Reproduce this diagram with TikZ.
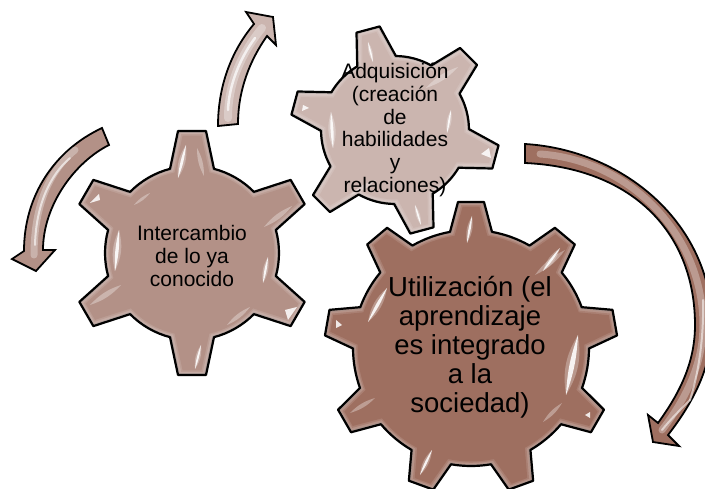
\documentclass[tikz,border=0pt]{standalone}
\usepackage{fontspec}
\setmainfont{Liberation Sans}
\definecolor{gA}{HTML}{B39187}
\definecolor{gB}{HTML}{CBB5AF}
\definecolor{gC}{HTML}{9E6F60}
\newcommand\mkgear[9]{% cx cy n rot rb rt hwtip hwbase inset
  \gdef\gearP{}%
  \foreach \k in {1,...,#3}{%
    \pgfmathsetmacro\ang{#4-(\k-1)*360/#3}%
    \pgfmathsetmacro\rB{#5-#9}\pgfmathsetmacro\rT{#6-#9}%
    \pgfmathsetmacro\hT{max(#7-#9,1)}\pgfmathsetmacro\hB{max(#8-#9,1)}%
    \pgfmathsetmacro\da{asin(\hB/\rB)}%
    \pgfmathsetmacro\ca{cos(\ang)}\pgfmathsetmacro\sa{sin(\ang)}%
    \pgfmathsetmacro\ax{#1+\rB*cos(\ang+\da)}\pgfmathsetmacro\ay{#2-\rB*sin(\ang+\da)}%
    \pgfmathsetmacro\bx{#1+\rT*\ca-\hT*\sa}\pgfmathsetmacro\by{#2-\rT*\sa-\hT*\ca}%
    \pgfmathsetmacro\cx{#1+\rT*\ca+\hT*\sa}\pgfmathsetmacro\cy{#2-\rT*\sa+\hT*\ca}%
    \pgfmathsetmacro\dx{#1+\rB*cos(\ang-\da)}\pgfmathsetmacro\dy{#2-\rB*sin(\ang-\da)}%
    \xdef\gearP{\gearP(\ax,\ay) -- (\bx,\by) -- (\cx,\cy) -- (\dx,\dy) -- }%
    \foreach \s in {1,...,7}{%
      \pgfmathsetmacro\aa{\ang-\da-\s*(360/#3-2*\da)/8}%
      \pgfmathsetmacro\px{#1+\rB*cos(\aa)}\pgfmathsetmacro\py{#2-\rB*sin(\aa)}%
      \xdef\gearP{\gearP(\px,\py) -- }%
    }%
  }%
}
% layered gear: cx cy n rot rb rt hwtip hwbase colour
\newcommand\gearbody[9]{%
  \mkgear{#1}{#2}{#3}{#4}{#5}{#6}{#7}{#8}{0}%
  \edef\tmp{\noexpand\path[gearedge,fill=#9!60!gray!80!white] \gearP cycle;}\tmp
  \mkgear{#1}{#2}{#3}{#4}{#5}{#6}{#7}{#8}{1.8}%
  \edef\tmp{\noexpand\path[fill=#9!75!white] \gearP cycle;}\tmp
  \mkgear{#1}{#2}{#3}{#4}{#5}{#6}{#7}{#8}{3.2}%
  \edef\tmp{\noexpand\path[fill=#9!88!white] \gearP cycle;}\tmp
  \mkgear{#1}{#2}{#3}{#4}{#5}{#6}{#7}{#8}{4.6}%
  \edef\tmp{\noexpand\path[fill=#9] \gearP cycle;}\tmp
}
% tapered highlight: halo + bright sliver
\newcommand\gl[4]{%
  \fill[white,opacity=.28] (#1,#2) to[bend left=20] (#3,#4) to[bend left=20] (#1,#2);
  \fill[white,opacity=.88] (#1,#2) to[bend left=8] (#3,#4) to[bend left=8] (#1,#2);
}
\newcommand\pl[4]{%
  \fill[white,opacity=.32] (#1,#2) to[bend left=14] (#3,#4) to[bend left=14] (#1,#2);
}
\tikzset{
  gearedge/.style={draw=black,line width=2.2pt,line join=round},
  arrowA/.style={draw=black,line width=1.8pt,line join=miter,fill=#1},
  band/.style={draw=white,line cap=round,opacity=.3,line width=#1},
  spark/.style={fill=white,opacity=.85},
  gearlabel/.style={align=center,text=black,inner sep=0pt},
}
\begin{document}
\begin{tikzpicture}[x=1pt,y=-1pt]
\useasboundingbox (0,0) rectangle (705,489);
\clip (0,0) rectangle (705,489);
% arrows
\path[arrowA={gA}] (102,128) .. controls (55,150) and (24,195) .. (24,251) -- (12,259) -- (36,271) -- (55,250) -- (43,250) .. controls (43,205) and (75,162) .. (109,145) -- cycle;
\draw[band=7pt] (75,150) .. controls (50,170) and (34,205) .. (34,255);
\draw[band=2pt,opacity=.6] (70,158) .. controls (50,175) and (36,205) .. (35,245);
\path[arrowA={gB}] (218,126) .. controls (218,85) and (232,50) .. (254,24) -- (246,12) -- (273,17) -- (276,45) -- (267,36) .. controls (250,60) and (238,90) .. (238,124) -- cycle;
\draw[band=8pt] (228,118) .. controls (228,85) and (240,55) .. (262,28);
\draw[band=2.5pt,opacity=.7] (228,110) .. controls (229,85) and (240,58) .. (255,38);
\path[arrowA={gC}] (525,144) .. controls (625,150) and (712,225) .. (712,325) .. controls (712,365) and (695,400) .. (668,435) -- (679,446) -- (653,442) -- (648,415) -- (658,423) .. controls (682,390) and (695,360) .. (695,325) .. controls (695,235) and (635,168) .. (525,163) -- cycle;
\draw[band=7pt] (540,154) .. controls (630,160) and (703,235) .. (703,325) .. controls (703,365) and (685,400) .. (662,430);
\draw[band=2pt,opacity=.55] (690,400) .. controls (680,410) and (670,420) .. (662,430);
\draw[band=2pt,opacity=.55] (703,300) .. controls (704,340) and (698,375) .. (690,400);
% gear 2
\gearbody{395}{130}{6}{-15}{74}{104}{12}{20}{gB}
\gl{331}{112}{333}{148}
\gl{451}{110}{447}{133}
\pl{426}{88}{458}{67}
\pl{350}{195}{376}{180}
\gl{368}{42}{373}{62}
\gl{415}{205}{421}{225}
\fill[spark] (303,105) -- (309,108) -- (302,111) -- cycle;
\fill[spark] (491,158) -- (481,154) -- (489,148) -- cycle;
% gear 1
\gearbody{192}{253}{6}{30}{87}{122}{14}{22}{gA}
\gl{186}{145}{178}{178}
\pl{197}{148}{204}{176}
\fill[spark] (90,203) -- (99,194) -- (100,200) -- cycle;
\pl{292}{206}{264}{227}
\gl{119}{230}{115}{271}
\gl{268}{257}{263}{283}
\fill[spark] (285,310) -- (297,307) -- (288,320) -- cycle;
\pl{90}{305}{121}{285}
\gl{201}{345}{195}{369}
\pl{227}{325}{250}{307}
\pl{134}{205}{150}{193}
% gear 3
\gearbody{471}{348}{9}{10}{118}{146}{13}{21}{gC}
\gl{472}{216}{467}{243}
\gl{560}{248}{543}{271}
\pl{565}{250}{535}{275}
\gl{387}{288}{368}{322}
\gl{578}{335}{566}{395}
\gl{432}{450}{420}{475}
\pl{375}{398}{350}{413}
\pl{562}{403}{543}{422}
\fill[spark] (336,320) -- (342,325) -- (336,328) -- cycle;
\fill[spark] (590,412) -- (590,418) -- (585,415) -- cycle;
% labels
\node[gearlabel,font=\fontsize{21}{23}\selectfont] (lblA) at (192,255.5) {Intercambio\\de lo ya\\conocido};
\node[gearlabel,font=\fontsize{21}{22.7}\selectfont] (lblB) at (395,130) {Adquisición\\(creación\\de\\habilidades\\y\\relaciones)};
\node[gearlabel,font=\fontsize{27.5}{29}\selectfont] (lblC) at (470,347) {Utilización (el\\aprendizaje\\es integrado\\a la\\sociedad)};
\end{tikzpicture}
\end{document}
